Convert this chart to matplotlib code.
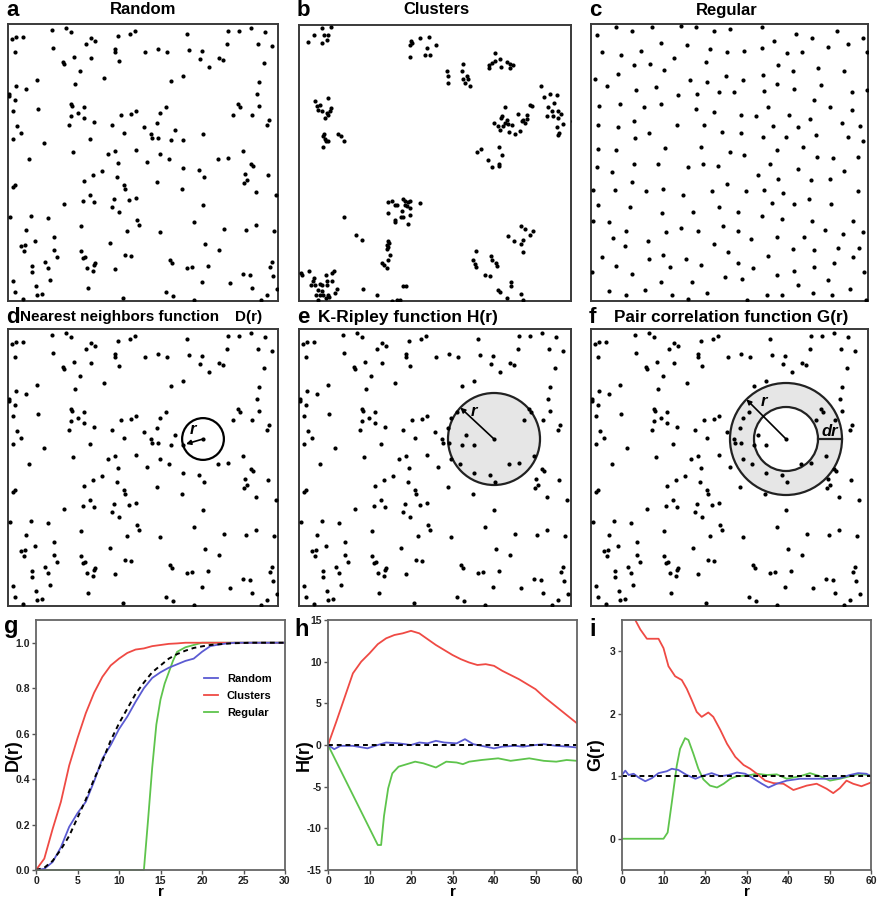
import numpy as np
import matplotlib
matplotlib.use("Agg")
import matplotlib.pyplot as plt
from matplotlib.patches import Circle, Wedge, FancyArrowPatch

plt.rcParams['font.family'] = ['Liberation Sans', 'DejaVu Sans']

# ---------------------------------------------------------------------------
# Cell positions in the imaged field (pixel units, origin top-left)
# ---------------------------------------------------------------------------
random_xy = np.array([
    (4, 15), (8, 13), (15, 13), (44, 6), (58, 4), (63, 8), (7, 28), (45, 24), (83, 14), (87, 17),
    (78, 20), (110, 12), (122, 10), (127, 7), (107, 25), (107, 28), (137, 28), (66, 33), (83, 34), (55, 38),
    (56, 40), (111, 37), (72, 47), (96, 54), (29, 56), (67, 60), (8, 62), (18, 65), (1, 70), (0.5, 71.5),
    (7, 76), (63, 80), (64, 82), (76, 83), (30, 85), (5, 87), (70, 89), (63, 92), (76, 94), (86, 98),
    (113, 91), (123, 90), (128, 87), (9, 102), (61, 101), (104, 101), (136, 103), (13, 109), (116, 109), (5, 115),
    (82, 115), (36, 119), (65, 128), (107, 127), (100, 130), (128, 126), (21, 135),
    (179, 10), (220, 7), (231, 7), (243, 4), (257, 8), (219, 20), (250, 20), (264, 22), (150, 25),
    (159, 28), (181, 26), (194, 27), (192, 35), (211, 34), (215, 36), (201, 43), (256, 39), (163, 57), (175, 52),
    (251, 58), (249, 70), (230, 80), (232, 83), (251, 82), (158, 83), (152, 89), (225, 91), (244, 91), (261, 96),
    (259, 101), (149, 99), (167, 106), (143, 110), (144, 114), (150, 114), (163, 116), (175, 116), (195, 110), (152, 130),
    (161, 135), (235, 127), (210, 135), (220, 134),
    (110, 139), (5, 163), (7, 161), (76, 157), (85, 151), (94, 147), (109, 153), (116, 161), (117, 165), (82, 171),
    (75, 177), (86, 178), (106, 175), (121, 176), (128, 174), (56, 180), (104, 183), (111, 188), (2, 193), (23, 192),
    (40, 194), (129, 196), (131, 201), (73, 202), (18, 206), (119, 207), (46, 213), (27, 217), (13, 222), (17, 221),
    (16, 227), (102, 219), (46, 226), (73, 227), (49, 233), (75, 234), (77, 233), (117, 231), (123, 232), (24, 242),
    (37, 238), (40, 244), (24, 248), (79, 244), (86, 241), (87, 239), (85, 247), (107, 245), (5, 257), (42, 256),
    (28, 262), (7, 268), (29, 271), (34, 270), (80, 264), (15, 275), (115, 274),
    (139, 138), (175, 144), (191, 146), (196, 153), (243, 140), (245, 142), (237, 150), (239, 156), (236, 159),
    (260, 151), (149, 158), (174, 165), (248, 168), (268, 171), (195, 181), (186, 198), (152, 208), (216, 205),
    (238, 206), (248, 201), (266, 207), (197, 220), (211, 226), (162, 236), (164, 239), (179, 244), (184, 243),
    (200, 242), (235, 250), (242, 251), (264, 238), (262, 243), (265, 252), (194, 258), (222, 259), (244, 264),
    (269, 265), (158, 268), (165, 272), (259, 271), (186, 276), (253, 276),
])
focal_cell = (195, 110)

cluster_xy = np.array([
    (23, 3), (32, 1.5), (15, 10), (25, 10), (29, 10), (28, 15), (9, 17), (23, 18),
    (112, 16), (113, 18), (111, 20), (121, 13), (130, 12), (137, 20), (128, 23), (111, 32), (126, 30), (131, 30),
    (148, 46), (149, 51), (149, 58), (164, 39), (163, 46), (168, 51), (169, 54), (164, 54), (166, 58), (171, 61),
    (196, 28), (190, 40), (193, 38), (196, 36), (201, 34), (202, 42), (208, 37), (211, 39), (214, 40), (190, 43),
    (211, 43),
    (242, 61), (245, 72), (251, 69), (258, 70), (255, 78), (249, 82), (253, 86), (259, 86), (262, 89), (254, 91),
    (259, 93), (264, 99), (258, 102), (260, 108), (259, 110), (248, 91), (274, 96),
    (206, 82), (203, 91), (202, 93), (195, 98), (199, 101), (204, 101), (209, 99), (213, 100), (206, 98), (208, 95),
    (219, 89), (224, 95), (228, 94), (226, 98), (223, 96), (231, 80), (233, 81), (201, 105), (210, 107), (216, 109),
    (221, 106), (228, 90),
    (29, 73), (16, 76), (18, 81), (19, 85), (23, 86), (28, 88), (31, 86), (32, 83), (26, 93), (29, 90), (21, 80),
    (25, 109), (24, 111), (26, 114), (27, 116), (39, 109), (42, 111), (45, 116), (24, 122), (29, 116),
    (178, 127), (182, 124), (200, 122), (203, 130), (189, 135), (193, 142), (200, 139), (200, 141),
    (89, 177), (93, 176), (96, 180), (98, 180), (104, 174), (106, 176), (109, 177), (111, 176), (108, 181), (111, 183),
    (103, 186), (89, 188), (102, 192), (104, 192), (111, 190), (96, 195), (96, 197), (109, 199), (121, 178), (106, 180),
    (45, 192), (57, 210), (63, 215),
    (89, 216), (90, 218), (88, 220), (89, 222), (88, 224), (91, 230), (89, 235), (83, 238), (85, 240), (88, 243),
    (104, 261), (107, 261), (64, 264), (78, 270), (93, 276), (98, 275), (101, 275),
    (2, 248), (3, 250), (10, 246), (15, 253), (14, 256), (12, 260), (16, 260), (21, 259), (23, 260), (27, 250),
    (28, 256), (28, 260), (33, 248), (35, 246), (33, 256), (38, 264), (36, 268), (19, 265), (23, 266), (21, 270),
    (24, 270), (29, 270), (30, 272), (17, 270), (19, 275), (27, 273),
    (222, 201), (226, 204), (234, 206), (231, 210), (209, 211), (215, 216), (224, 215), (222, 219), (224, 227),
    (177, 226), (174, 235), (176, 239), (177, 242), (192, 231), (193, 235), (197, 238), (198, 241), (186, 250),
    (191, 251), (212, 257), (212, 261), (199, 265), (201, 267), (208, 273), (222, 269), (224, 275),
])

regular_xy = np.array([
    (6, 11), (25, 3), (41, 7), (61, 3), (90, 1.5), (105, 2.5), (123, 7), (139, 5), (171, 2.5), (205, 10),
    (221, 14), (246, 7), (272, 14),
    (11, 28), (30, 31), (50, 27), (70, 19), (96, 21), (119, 25), (136, 28), (153, 27), (171, 24), (183, 17),
    (196, 29), (211, 28), (237, 23), (257, 20), (276, 28),
    (43, 41), (59, 40), (73, 46), (83, 34), (115, 38), (187, 41), (202, 47), (227, 44), (253, 47),
    (4, 55), (27, 50), (99, 56), (116, 58), (135, 52), (152, 56), (172, 51), (186, 60), (203, 65), (230, 61),
    (16, 62), (45, 66), (65, 63), (87, 71), (106, 70), (128, 68), (143, 68), (173, 67), (261, 68), (276, 66),
    (8, 82), (29, 80), (53, 83), (70, 80), (105, 85), (123, 88), (150, 91), (165, 92), (177, 83), (198, 91),
    (223, 76), (239, 83), (261, 86),
    (7, 101), (27, 103), (43, 97), (58, 109), (86, 101), (113, 101), (131, 108), (150, 109), (172, 113), (182, 102),
    (195, 113), (207, 103), (219, 95), (225, 111), (251, 99), (269, 102), (257, 113), (272, 117),
    (7, 125), (25, 126), (44, 114), (74, 124), (110, 123), (139, 128), (153, 131), (186, 126), (212, 123), (226, 133),
    (242, 134), (267, 133),
    (6, 143), (21, 148), (43, 140), (67, 140), (97, 143), (112, 140), (127, 142), (179, 140), (167, 151), (187, 155),
    (207, 145), (253, 147), (220, 156), (239, 155),
    (41, 158), (1.5, 166), (24, 166), (55, 167), (72, 165), (92, 171), (121, 167), (136, 160), (155, 167), (173, 166),
    (192, 169), (267, 167),
    (7, 181), (39, 183), (71, 189), (102, 188), (128, 183), (147, 188), (181, 179), (203, 180), (218, 175), (240, 180),
    (1.5, 197), (18, 198), (171, 192), (191, 195), (221, 197), (262, 197),
    (35, 207), (75, 208), (90, 204), (107, 207), (132, 202), (147, 207), (234, 206), (252, 210), (272, 208),
    (22, 214), (57, 217), (160, 215), (186, 213), (213, 213),
    (34, 222), (123, 220), (202, 225), (223, 226), (247, 224), (268, 224),
    (11, 233), (58, 235), (72, 231), (95, 235), (137, 228), (177, 232), (262, 233),
    (25, 242), (79, 243), (110, 241), (147, 239), (162, 244), (203, 247), (223, 243), (243, 239),
    (1, 248), (41, 250), (134, 253), (151, 255), (186, 251), (237, 256), (273, 248),
    (70, 258), (101, 258), (207, 261), (259, 265),
    (18, 267), (35, 271), (54, 266), (81, 271), (97, 275), (116, 269), (156, 276), (176, 271), (191, 271), (222, 269),
    (241, 271), (275, 276),
])

# ---------------------------------------------------------------------------
# Spatial statistics
# ---------------------------------------------------------------------------
r_D = list(range(0, 31))
D_random = [0, 0.005, 0.035, 0.10, 0.19, 0.25, 0.30, 0.39, 0.49, 0.55, 0.62, 0.675, 0.74, 0.80, 0.845, 0.87,
            0.89, 0.905, 0.92, 0.93, 0.96, 0.985, 0.992, 0.997, 1, 1, 1, 1, 1, 1, 1]
D_clusters = [0, 0.05, 0.18, 0.30, 0.46, 0.58, 0.69, 0.78, 0.85, 0.90, 0.93, 0.955, 0.97, 0.975, 0.985, 0.99,
              0.995, 0.997, 1, 1, 1, 1, 1, 1, 1, 1, 1, 1, 1, 1, 1]
D_csr = [0, 0.01, 0.04, 0.09, 0.15, 0.23, 0.31, 0.40, 0.48, 0.57, 0.645, 0.71, 0.775, 0.825, 0.87, 0.90,
         0.93, 0.95, 0.965, 0.977, 0.984, 0.99, 0.993, 0.996, 0.998, 0.999, 1, 1, 1, 1, 1]
r_D_regular = [0, 13, 13.5, 14, 14.5, 15, 15.5, 16, 16.5, 17, 18, 19, 20, 21, 30]
D_regular = [0, 0, 0.22, 0.45, 0.64, 0.75, 0.82, 0.87, 0.92, 0.96, 0.98, 0.99, 1.0, 1.0, 1.0]

r_H = list(range(0, 61, 2))
H_clusters = [0, 2.8, 5.7, 8.6, 10.0, 11.0, 12.1, 12.8, 13.2, 13.4, 13.7, 13.4, 12.7, 12.0, 11.4, 10.8,
              10.3, 9.9, 9.6, 9.7, 9.5, 8.9, 8.4, 7.9, 7.3, 6.7, 5.8, 5.0, 4.2, 3.4, 2.6]
r_H_random = [0, 1.5, 3, 6, 9.5, 12, 14, 17, 20, 22, 24, 26, 28, 31, 33, 35, 38, 40, 42, 45, 47, 50, 52, 55, 58, 60]
H_random = [0, -0.5, -0.1, -0.1, -0.4, 0, 0.3, 0.2, 0, 0.3, 0.2, 0.5, 0.3, 0.2, 0.7, 0.1, -0.2, -0.4,
            -0.2, -0.1, -0.2, 0, 0.1, -0.1, -0.2, -0.3]
r_H_regular = [0, 12, 12.8, 13.5, 14.5, 15.5, 17, 19, 21, 23, 26, 28.5, 31, 32.5, 34, 37, 41, 44, 48.5,
               52, 55, 57.5, 60]
H_regular = [0, -12, -12, -8.5, -5.2, -3.4, -2.6, -2.3, -2.0, -2.2, -2.7, -2.0, -2.1, -2.3, -2.0, -1.8,
             -1.6, -1.9, -1.6, -1.9, -2.0, -1.8, -1.9]

r_G_clusters = [0, 2, 3.2, 4.4, 6, 8.8, 10, 11.2, 12.8, 14.4, 15.6, 16.8, 18, 19.2, 20.8, 22, 23.7, 25.3,
                27.3, 29.3, 30.9, 32.5, 34.5, 36.5, 38.9, 41.3, 44.5, 46.9, 49.3, 50.9, 52.5, 54.1, 55.7, 57.7, 60]
G_clusters = [3.9, 3.7, 3.5, 3.35, 3.2, 3.2, 3.05, 2.76, 2.6, 2.54, 2.4, 2.22, 2.03, 1.95, 2.02, 1.95, 1.74,
              1.52, 1.31, 1.18, 1.12, 1.04, 0.93, 0.89, 0.88, 0.78, 0.85, 0.88, 0.8, 0.73, 0.81, 0.93, 0.88,
              0.84, 0.9]
r_G_random = [0, 0.8, 1.6, 2.8, 4, 5.6, 7.2, 8.8, 10.8, 12, 13.6, 15.6, 17.7, 19.6, 21.6, 23.7, 25.7, 27.7,
              29.7, 31.3, 33.7, 35.3, 37.3, 39.7, 42.9, 46.1, 49.3, 52.5, 54.9, 56.9, 58.9, 60]
G_random = [1.02, 1.09, 1.02, 1.04, 0.98, 0.92, 0.97, 1.05, 1.08, 1.12, 1.1, 1.02, 0.96, 1.01, 1.05, 1.0,
            1.02, 1.06, 1.04, 0.98, 0.88, 0.82, 0.88, 0.93, 0.96, 0.96, 0.96, 0.97, 1.02, 1.05, 1.04, 1.0]
r_G_regular = [0, 10, 11, 12, 13.2, 14, 15.2, 16, 17.2, 18.4, 19.6, 21.2, 22.9, 24.5, 26.1, 27.7, 30.1,
               32.5, 34.9, 37.3, 39.7, 42.9, 45.3, 47.7, 50.1, 52.5, 54.9, 57.3, 60]
G_regular = [0, 0, 0.1, 0.58, 1.17, 1.44, 1.61, 1.58, 1.36, 1.12, 0.95, 0.85, 0.82, 0.88, 0.96, 1.0, 1.01,
             1.04, 1.02, 1.03, 0.96, 1.0, 1.05, 1.0, 0.93, 0.96, 1.0, 1.04, 1.01]

# ---------------------------------------------------------------------------
FIG_W, FIG_H = 880, 901
fig = plt.figure(figsize=(FIG_W / 100, FIG_H / 100), dpi=100)

C_RANDOM = '#5b5bd2'
C_CLUSTERS = '#ef4a44'
C_REGULAR = '#5ec44c'
FRAME = '#3a3a3a'
SHADE = '#e6e6e6'


def rect(l, t, r, b):
    return [l / FIG_W, 1 - b / FIG_H, (r - l) / FIG_W, (b - t) / FIG_H]


def fig_text(x, y, s, **kw):
    fig.text(x / FIG_W, 1 - y / FIG_H, s, **kw)


def field_axes(l, t, r, b, pts):
    ax = fig.add_axes(rect(l, t, r, b))
    ax.set_xlim(0, r - l)
    ax.set_ylim(b - t, 0)
    ax.set_xticks([])
    ax.set_yticks([])
    for s in ax.spines.values():
        s.set_color(FRAME)
        s.set_linewidth(1.4)
    ax.plot(pts[:, 0], pts[:, 1], 'o', ms=3.0, color='black', mec='none', zorder=5)
    return ax


# Row 1: the three patterns
ax_a = field_axes(8, 24, 278, 301, random_xy)
ax_b = field_axes(299, 25, 571, 301, cluster_xy)
ax_c = field_axes(591, 24, 868, 301, regular_xy)

# Row 2: the random pattern with the three estimators
ax_d = field_axes(8, 329, 278, 606, random_xy)
ax_e = field_axes(299, 329, 571, 606, random_xy)
ax_f = field_axes(591, 329, 868, 606, random_xy)

cx, cy = focal_cell
others = random_xy[(random_xy[:, 0] != cx) | (random_xy[:, 1] != cy)]
dist = np.hypot(others[:, 0] - cx, others[:, 1] - cy)
nn = others[np.argmin(dist)]
nn_r = dist.min()

LABEL = dict(fontsize=12, fontweight='bold', style='italic', ha='center', va='center', zorder=7)

# d: nearest neighbour
ax_d.add_patch(Circle((cx, cy), nn_r, facecolor='white', edgecolor='black', lw=1.6, zorder=3))
ax_d.add_patch(FancyArrowPatch((cx, cy), (nn[0] + 3, nn[1] - 1), arrowstyle='-|>', mutation_scale=7,
                               lw=1.2, color='black', zorder=6, shrinkA=0, shrinkB=0))
ax_d.text(cx - 10, cy - 9, 'r', **LABEL)

# e: K-Ripley disc
R_e = 46
ax_e.add_patch(Circle((cx, cy), R_e, facecolor=SHADE, edgecolor='#222222', lw=1.6, zorder=3))
ang = np.deg2rad(137)
ex, ey = cx + R_e * np.cos(ang), cy - R_e * np.sin(ang)
ax_e.add_patch(FancyArrowPatch((cx, cy), (ex, ey), arrowstyle='-|>', mutation_scale=7, lw=1.2,
                               color='black', zorder=6, shrinkA=0, shrinkB=0))
ax_e.text(cx - 20, cy - 28, 'r', **LABEL)

# f: pair-correlation ring
r_in, dr = 32, 24
ax_f.add_patch(Wedge((cx, cy), r_in + dr, 0, 360, width=dr, facecolor=SHADE, edgecolor='none', zorder=3))
ax_f.add_patch(Circle((cx, cy), r_in + dr, facecolor='none', edgecolor='#222222', lw=1.6, zorder=4))
ax_f.add_patch(Circle((cx, cy), r_in, facecolor='white', edgecolor='#222222', lw=1.6, zorder=4))
fx, fy = cx + (r_in + dr) * np.cos(np.deg2rad(135)), cy - (r_in + dr) * np.sin(np.deg2rad(135))
ax_f.add_patch(FancyArrowPatch((cx, cy), (fx, fy), arrowstyle='-|>', mutation_scale=7, lw=1.2,
                               color='black', zorder=6, shrinkA=0, shrinkB=0))
ax_f.plot([cx + r_in, cx + r_in + dr], [cy, cy], color='#222222', lw=1.6, zorder=6)
ax_f.text(cx - 22, cy - 38, 'r', **LABEL)
ax_f.text(cx + r_in + dr / 2, cy - 7, 'dr', **LABEL)

# Panel titles
TITLE = dict(fontsize=12, fontweight='bold', va='center')
LETTER = dict(fontsize=16, fontweight='bold', va='center')
fig_text(6, 10, 'a', **LETTER)
fig_text(143, 10, 'Random', ha='center', **TITLE)
fig_text(297, 10, 'b', **LETTER)
fig_text(436, 10, 'Clusters', ha='center', **TITLE)
fig_text(589, 10, 'c', **LETTER)
fig_text(727, 10, 'Regular', ha='center', **TITLE)

fig_text(6, 317, 'd', **LETTER)
fig_text(20, 317, 'Nearest neighbors function', ha='left', fontsize=11, fontweight='bold', va='center')
fig_text(262, 317, 'D(r)', ha='right', fontsize=11, fontweight='bold', va='center')
fig_text(297, 317, 'e', **LETTER)
fig_text(318, 317, 'K-Ripley function H(r)', ha='left', fontsize=12.5, fontweight='bold', va='center')
fig_text(589, 317, 'f', **LETTER)
fig_text(614, 317, 'Pair correlation function G(r)', ha='left', fontsize=12.3, fontweight='bold',
         va='center')


# Row 3: curves
def curve_axes(l, r, xlim, ylim, xticks, yticks, ylabel, yfmt, ylab_x):
    ax = fig.add_axes(rect(l, 620, r, 870))
    ax.set_xlim(*xlim)
    ax.set_ylim(*ylim)
    ax.set_xticks(xticks)
    ax.set_yticks(yticks)
    ax.set_yticklabels([yfmt.format(v) for v in yticks])
    for s in ax.spines.values():
        s.set_color('#666666')
        s.set_linewidth(1.3)
    ax.tick_params(direction='out', length=3, width=1, colors='#555555', labelcolor='#222222',
                   labelsize=7.5, pad=1.5)
    for lab in ax.get_xticklabels() + ax.get_yticklabels():
        lab.set_fontweight('bold')
    ax.set_xlabel('r', fontsize=11, fontweight='bold', labelpad=-1)
    ax.set_ylabel(ylabel, fontsize=13, fontweight='bold')
    ax.yaxis.set_label_coords(ylab_x, 0.46)
    return ax


LW = 1.3
DASH = (0, (2.5, 2))
ax_g = curve_axes(36, 285, (0, 30), (0, 1.1), range(0, 31, 5), [0, 0.2, 0.4, 0.6, 0.8, 1.0], 'D(r)',
                  '{:.1f}', -0.058)
ax_g.plot(r_D_regular, D_regular, color=C_REGULAR, lw=LW, label='Regular', clip_on=False)
ax_g.plot(r_D, D_clusters, color=C_CLUSTERS, lw=LW, label='Clusters')
ax_g.plot(r_D, D_random, color=C_RANDOM, lw=LW, label='Random')
ax_g.plot(r_D, D_csr, color='black', lw=1.4, ls=DASH)
h_handles, h_labels = ax_g.get_legend_handles_labels()
order = [2, 1, 0]
ax_g.legend([h_handles[i] for i in order], [h_labels[i] for i in order], loc='center left',
            bbox_to_anchor=(0.675, 0.696), frameon=False, borderpad=0, borderaxespad=0,
            handlelength=1.25, handletextpad=0.8, labelspacing=0.65, prop={'size': 8, 'weight': 'bold'})

ax_h = curve_axes(328, 577, (0, 60), (-15, 15), range(0, 61, 10), range(-15, 16, 5), 'H(r)', '{:d}',
                  -0.062)
ax_h.plot(r_H_regular, H_regular, color=C_REGULAR, lw=LW)
ax_h.plot(r_H, H_clusters, color=C_CLUSTERS, lw=LW)
ax_h.plot(r_H_random, H_random, color=C_RANDOM, lw=LW)
ax_h.axhline(0, color='black', lw=1.4, ls=DASH)

ax_i = curve_axes(622, 871, (0, 60), (-0.5, 3.5), range(0, 61, 10), [0, 1, 2, 3], 'G(r)', '{:d}', -0.07)
ax_i.plot(r_G_regular, G_regular, color=C_REGULAR, lw=LW)
ax_i.plot(r_G_clusters, G_clusters, color=C_CLUSTERS, lw=LW)
ax_i.plot(r_G_random, G_random, color=C_RANDOM, lw=LW)
ax_i.axhline(1, color='black', lw=1.4, ls=DASH)

fig_text(4, 627, 'g', fontsize=17, fontweight='bold', va='center')
fig_text(294, 629, 'h', fontsize=17, fontweight='bold', va='center')
fig_text(589, 629, 'i', fontsize=17, fontweight='bold', va='center')

fig.savefig('out.png', dpi=100)
